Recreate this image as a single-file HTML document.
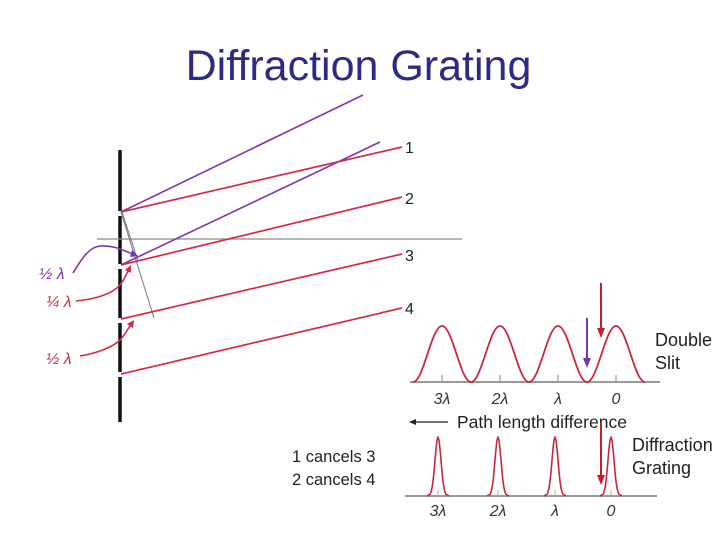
<!DOCTYPE html>
<html>
<head>
<meta charset="utf-8">
<style>
  html, body { margin: 0; padding: 0; background: #fff; }
  svg { display: block; }
  text { font-family: "Liberation Sans", Arial, sans-serif; }
</style>
</head>
<body>
<svg width="720" height="539" viewBox="0 0 720 539" xmlns="http://www.w3.org/2000/svg">
  <rect width="720" height="539" fill="#ffffff"/>

  <!-- Title -->
  <text x="358.5" y="80" font-size="43" fill="#2d2a86" text-anchor="middle">Diffraction Grating</text>

  <!-- Grating bar -->
  <g stroke="#111" stroke-width="3.5" stroke-linecap="butt">
    <line x1="120" y1="150" x2="120" y2="211"/>
    <line x1="120" y1="216" x2="120" y2="264"/>
    <line x1="120" y1="269" x2="120" y2="318"/>
    <line x1="120" y1="323" x2="120" y2="372"/>
    <line x1="120" y1="377" x2="120" y2="422"/>
  </g>

  <!-- gray reference lines -->
  <line x1="97" y1="239" x2="462" y2="239" stroke="#8a8a8a" stroke-width="1.3"/>
  <line x1="121" y1="212" x2="154" y2="318" stroke="#777" stroke-width="1"/>
  <line x1="122" y1="212" x2="138" y2="261" stroke="#777" stroke-width="1"/>

  <!-- purple rays -->
  <g stroke="#7b35b0" stroke-width="1.6" fill="none">
    <line x1="121" y1="212" x2="363" y2="95"/>
    <line x1="121" y1="265" x2="380" y2="142"/>
  </g>

  <!-- red rays -->
  <g stroke="#d42a48" stroke-width="1.7" fill="none">
    <line x1="121" y1="212" x2="402" y2="147"/>
    <line x1="121" y1="265" x2="402" y2="197"/>
    <line x1="121" y1="319" x2="402" y2="254"/>
    <line x1="121" y1="374" x2="402" y2="308"/>
  </g>

  <!-- ray numbers -->
  <g font-size="16" fill="#222">
    <text x="405" y="153">1</text>
    <text x="405" y="204">2</text>
    <text x="405" y="261">3</text>
    <text x="405" y="314">4</text>
  </g>

  <!-- phase curves -->
  <path d="M73,273 C80,262 88,247 100,246 C115,245 124,251 133,254" stroke="#7b35b0" stroke-width="1.6" fill="none"/>
  <polygon points="138,256 130,257 132,250" fill="#7b35b0"/>
  <path d="M76,301 C95,299 112,294 120,285 C124,280 126,275 128,271" stroke="#d42a48" stroke-width="1.6" fill="none"/>
  <polygon points="131,265 131,273 125,270" fill="#d42a48"/>
  <path d="M80,356 C98,353 113,347 120,340 C125,335 127,330 130,326" stroke="#d42a48" stroke-width="1.6" fill="none"/>
  <polygon points="134,320 133,328 127,324" fill="#d42a48"/>

  <g font-size="16" font-style="italic">
    <text x="39" y="279" fill="#7b35b0">½ λ</text>
    <text x="46" y="307" fill="#d42a48">¼ λ</text>
    <text x="46" y="364" fill="#d42a48">½ λ</text>
  </g>

  <!-- Double slit plot -->
  <line x1="410" y1="382" x2="660" y2="382" stroke="#999" stroke-width="2"/>
  <g stroke="#999" stroke-width="1.2">
    <line x1="442" y1="375" x2="442" y2="382"/>
    <line x1="500" y1="375" x2="500" y2="382"/>
    <line x1="558" y1="375" x2="558" y2="382"/>
    <line x1="616" y1="375" x2="616" y2="382"/>
  </g>
  <path d="M413,382 C423.6,382 431.4,326 442,326 S460.4,382 471,382 S489.4,326 500,326 S518.4,382 529,382 S547.4,326 558,326 S576.4,382 587,382 S605.4,326 616,326 S634.4,382 645,382" stroke="#c8283e" stroke-width="1.8" fill="none"/>
  <g font-size="16" font-style="italic" fill="#333" text-anchor="middle">
    <text x="442" y="404">3λ</text>
    <text x="500" y="404">2λ</text>
    <text x="558" y="404">λ</text>
    <text x="616" y="404">0</text>
  </g>

  <!-- arrows on double slit -->
  <line x1="601" y1="283" x2="601" y2="329" stroke="#cc1a2a" stroke-width="2"/>
  <polygon points="601,338 597,328 605,328" fill="#cc1a2a"/>
  <line x1="587" y1="318" x2="587" y2="359" stroke="#7b35b0" stroke-width="2"/>
  <polygon points="587,368 583,358 591,358" fill="#7b35b0"/>

  <text x="655" y="346" font-size="18" fill="#222">Double</text>
  <text x="655" y="369" font-size="18" fill="#222">Slit</text>

  <!-- Path length difference -->
  <line x1="414" y1="422" x2="448" y2="422" stroke="#222" stroke-width="1.3"/>
  <polygon points="409,422 416,419 416,425" fill="#222"/>
  <text x="457" y="428" font-size="17.5" fill="#222">Path length difference</text>

  <text x="292" y="462" font-size="16.5" fill="#222">1 cancels 3</text>
  <text x="292" y="485" font-size="16.5" fill="#222">2 cancels 4</text>

  <!-- Grating plot -->
  <line x1="405" y1="496" x2="657" y2="496" stroke="#999" stroke-width="2"/>
  <g stroke="#aaa" stroke-width="1">
    <line x1="438" y1="490" x2="438" y2="496"/>
    <line x1="498" y1="490" x2="498" y2="496"/>
    <line x1="555" y1="490" x2="555" y2="496"/>
    <line x1="611" y1="490" x2="611" y2="496"/>
  </g>
  <g stroke="#c8283e" stroke-width="1.6" fill="none" stroke-linejoin="round">
    <path transform="translate(438,496)" d="M-11,0 L-8,-1.7 L-7,-3.9 L-6,-8 L-5,-14.7 L-4,-24.3 L-3,-35.8 L-2,-47.2 L-1,-55.8 L0,-59 L1,-55.8 L2,-47.2 L3,-35.8 L4,-24.3 L5,-14.7 L6,-8 L7,-3.9 L8,-1.7 L11,0"/>
    <path transform="translate(498,496)" d="M-11,0 L-8,-1.7 L-7,-3.9 L-6,-8 L-5,-14.7 L-4,-24.3 L-3,-35.8 L-2,-47.2 L-1,-55.8 L0,-59 L1,-55.8 L2,-47.2 L3,-35.8 L4,-24.3 L5,-14.7 L6,-8 L7,-3.9 L8,-1.7 L11,0"/>
    <path transform="translate(555,496)" d="M-11,0 L-8,-1.7 L-7,-3.9 L-6,-8 L-5,-14.7 L-4,-24.3 L-3,-35.8 L-2,-47.2 L-1,-55.8 L0,-59 L1,-55.8 L2,-47.2 L3,-35.8 L4,-24.3 L5,-14.7 L6,-8 L7,-3.9 L8,-1.7 L11,0"/>
    <path transform="translate(611,496)" d="M-11,0 L-8,-1.7 L-7,-3.9 L-6,-8 L-5,-14.7 L-4,-24.3 L-3,-35.8 L-2,-47.2 L-1,-55.8 L0,-59 L1,-55.8 L2,-47.2 L3,-35.8 L4,-24.3 L5,-14.7 L6,-8 L7,-3.9 L8,-1.7 L11,0"/>
  </g>
  <g font-size="16" font-style="italic" fill="#333" text-anchor="middle">
    <text x="438" y="516">3λ</text>
    <text x="498" y="516">2λ</text>
    <text x="555" y="516">λ</text>
    <text x="611" y="516">0</text>
  </g>

  <line x1="601" y1="423" x2="601" y2="476" stroke="#cc1a2a" stroke-width="2"/>
  <polygon points="601,485 597,475 605,475" fill="#cc1a2a"/>

  <text x="632" y="451" font-size="18" fill="#222">Diffraction</text>
  <text x="632" y="474" font-size="18" fill="#222">Grating</text>
</svg>
</body>
</html>
